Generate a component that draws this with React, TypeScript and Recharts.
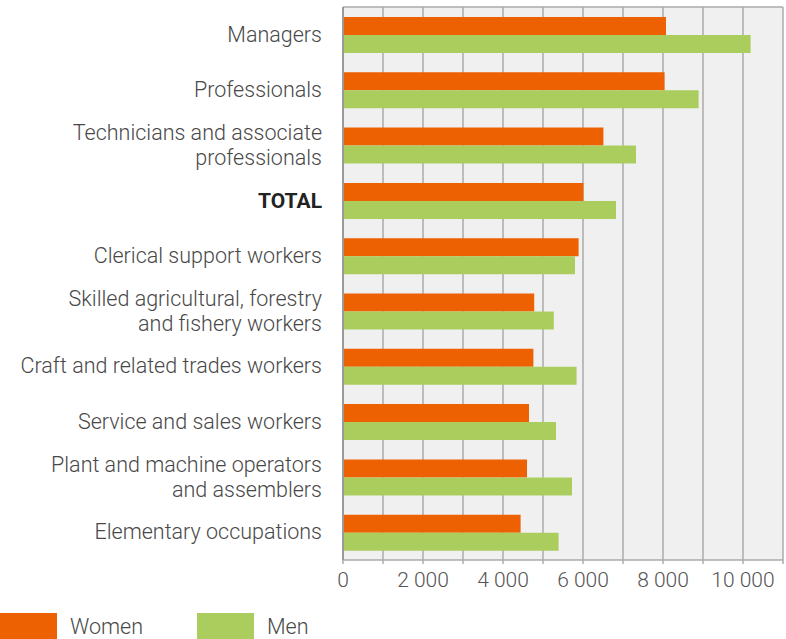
import { Bar, BarChart, CartesianGrid, Legend, ReferenceLine, XAxis, YAxis } from "recharts";

const CATEGORIES = [
  "Managers",
  "Professionals",
  "Technicians and associate\nprofessionals",
  "TOTAL",
  "Clerical support workers",
  "Skilled agricultural, forestry\nand fishery workers",
  "Craft and related trades workers",
  "Service and sales workers",
  "Plant and machine operators\nand assemblers",
  "Elementary occupations",
];
const WOMEN = [8075, 8040, 6510, 6010, 5890, 4780, 4760, 4650, 4600, 4440];
const MEN = [10190, 8890, 7325, 6825, 5800, 5270, 5840, 5325, 5725, 5390];
const X_TICKS = [0, 1000, 2000, 3000, 4000, 5000, 6000, 7000, 8000, 9000, 10000, 11000];
const LABELED_TICKS = [0, 2000, 4000, 6000, 8000, 10000];

const data = CATEGORIES.map((name, i) => ({ name, women: WOMEN[i], men: MEN[i] }));

const ORANGE = "#ED6103";
const GREEN = "#ABCD5E";
const GRID = "#ABABAB";
const FONT = "Roboto, 'Noto Sans', sans-serif";

const fmt = (v: number) =>
  LABELED_TICKS.includes(v) ? String(v).replace(/\B(?=(\d{3})+(?!\d))/g, " ") : "";

function CategoryTick(props: any) {
  const { x, y, payload } = props;
  const lines = String(payload.value).split("\n");
  const bold = payload.value === "TOTAL";
  const lh = 25;
  return (
    <text
      x={x}
      y={y}
      textAnchor="end"
      fill={bold ? "#222" : "#484848"}
      fontSize={bold ? 21 : 21.5}
      fontWeight={bold ? 700 : 300}
      fontFamily={FONT}
    >
      {lines.map((l, i) => (
        <tspan key={i} x={x} dy={i === 0 ? -((lines.length - 1) * lh) / 2 + 7 : lh}>
          {l}
        </tspan>
      ))}
    </text>
  );
}

function LegendContent() {
  const item = (color: string, label: string, left: number) => (
    <div style={{ position: "absolute", left, top: 0, display: "flex", alignItems: "center" }}>
      <div style={{ width: 57, height: 26, background: color }} />
      <span style={{ marginLeft: 13, fontSize: 21.5, fontWeight: 300, color: "#484848", fontFamily: FONT }}>
        {label}
      </span>
    </div>
  );
  return (
    <div style={{ position: "relative", width: 786, height: 26 }}>
      {item(ORANGE, "Women", 0)}
      {item(GREEN, "Men", 197)}
    </div>
  );
}

export default function App() {
  return (
    <div style={{ position: "absolute", left: 0, top: 0, width: 786, height: 639, background: "#fff" }}>
      <BarChart
        width={786}
        height={639}
        data={data}
        layout="vertical"
        margin={{ top: 7, right: 3, left: 0, bottom: 0 }}
        barSize={18}
        barGap={0}
      >
        <CartesianGrid
          fill="#F0F0F0"
          stroke={GRID}
          strokeWidth={1.5}
          horizontal={false}
          vertical={true}
        />
        <XAxis
          type="number"
          domain={[0, 11000]}
          ticks={X_TICKS}
          interval={0}
          tickFormatter={fmt}
          height={53}
          tickSize={4}
          tickMargin={8}
          axisLine={{ stroke: GRID, strokeWidth: 1.5 }}
          tickLine={{ stroke: GRID, strokeWidth: 1.5 }}
          tick={{ fill: "#555", fontSize: 21, fontWeight: 300, fontFamily: FONT }}
        />
        <YAxis
          type="category"
          dataKey="name"
          width={343}
          tickSize={0}
          tickMargin={21}
          interval={0}
          axisLine={{ stroke: "#999", strokeWidth: 2 }}
          tickLine={false}
          tick={<CategoryTick />}
        />
        <ReferenceLine y={CATEGORIES[0]} position="start" stroke={GRID} strokeWidth={1.5} />
        <Bar dataKey="women" name="Women" fill={ORANGE} isAnimationActive={false} />
        <Bar dataKey="men" name="Men" fill={GREEN} isAnimationActive={false} />
        <Legend
          verticalAlign="bottom"
          align="left"
          height={26}
          content={<LegendContent />}
          wrapperStyle={{ left: 0, bottom: 0, width: 786 }}
        />
      </BarChart>
    </div>
  );
}
